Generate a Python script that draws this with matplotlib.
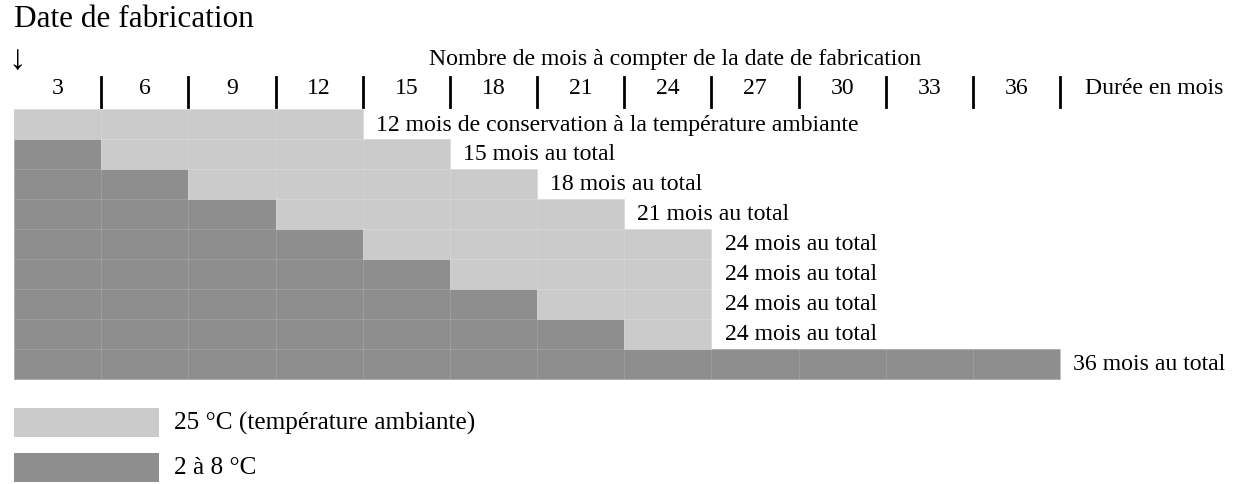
import matplotlib
matplotlib.use("Agg")
import matplotlib.pyplot as plt
from matplotlib.patches import Rectangle

# ---- data ----
row_labels = [
    "12 mois de conservation à la température ambiante",
    "15 mois au total",
    "18 mois au total",
    "21 mois au total",
    "24 mois au total",
    "24 mois au total",
    "24 mois au total",
    "24 mois au total",
    "36 mois au total",
]
cold_months = [0, 3, 6, 9, 12, 15, 18, 21, 36]        # 2 à 8 °C
ambient_months = [12, 12, 12, 12, 12, 9, 6, 3, 0]     # 25 °C
tick_values = [3, 6, 9, 12, 15, 18, 21, 24, 27, 30, 33, 36]
tick_labels = [str(v) for v in tick_values]
legend_labels = ["25 °C (température ambiante)", "2 à 8 °C"]

LIGHT = "#cbcbcb"
DARK = "#8e8e8e"
FONT = ["Liberation Serif", "DejaVu Serif"]
plt.rcParams["font.family"] = FONT
FS = 17.1

W, H = 1238, 485
fig = plt.figure(figsize=(W / 100, H / 100), dpi=100)
ax = fig.add_axes([0, 0, 1, 1])
ax.set_axis_off()

x0px, pxm = 14.0, (1060.0 - 14.0) / 36.0
y0px, rowpx = 125.0, 30.0
ax.set_xlim(-x0px / pxm, (W - x0px) / pxm)
ax.set_ylim((H - y0px) / rowpx, -y0px / rowpx)

ys = list(range(len(row_labels)))
ax.barh(ys, cold_months, left=0, height=1.0, color=DARK, edgecolor="#9c9c9c", linewidth=0.4)
ax.barh(ys, ambient_months, left=cold_months, height=1.0, color=LIGHT, edgecolor="#d6d6d6", linewidth=0.4)

# faint cell lines
for y, c, a in zip(ys, cold_months, ambient_months):
    tot = c + a
    for v in tick_values:
        if v < tot:
            ax.plot([v, v], [y - 0.5, y + 0.5], color="white", lw=0.5, alpha=0.18)

for y, c, a, lab in zip(ys, cold_months, ambient_months, row_labels):
    ax.annotate(lab, (c + a, y), xytext=(9.5, 0), textcoords="offset points",
                ha="left", va="center", fontsize=FS, color="black")

# header row
tick_y = (88 - y0px) / rowpx
for v, lab in zip(tick_values, tick_labels):
    ax.text(v - 1.5, tick_y, lab, ha="center", va="center", fontsize=FS)
    ax.plot([v, v], [(78 - y0px) / rowpx, (108 - y0px) / rowpx], color="black", lw=2)
ax.text(36 + 25 / pxm, tick_y, "Durée en mois", ha="left", va="center", fontsize=FS)

ax.text((675 - x0px) / pxm, (59 - y0px) / rowpx,
        "Nombre de mois à compter de la date de fabrication",
        ha="center", va="center", fontsize=FS)
ax.text(-6 / pxm, (61 - y0px) / rowpx, "↓", ha="left", va="center", fontsize=25)
ax.text(0, (19 - y0px) / rowpx, "Date de fabrication", ha="left", va="center", fontsize=22.5)

# legend
for i, (lab, col) in enumerate(zip(legend_labels, [LIGHT, DARK])):
    top = (409 + i * 45 - y0px) / rowpx
    ax.add_patch(Rectangle((0, top), 145 / pxm, 29 / rowpx, facecolor=col, edgecolor="none"))
    ax.text(160 / pxm, top + 14.5 / rowpx, lab, ha="left", va="center", fontsize=18.2)

fig.savefig("out.png", dpi=100)
